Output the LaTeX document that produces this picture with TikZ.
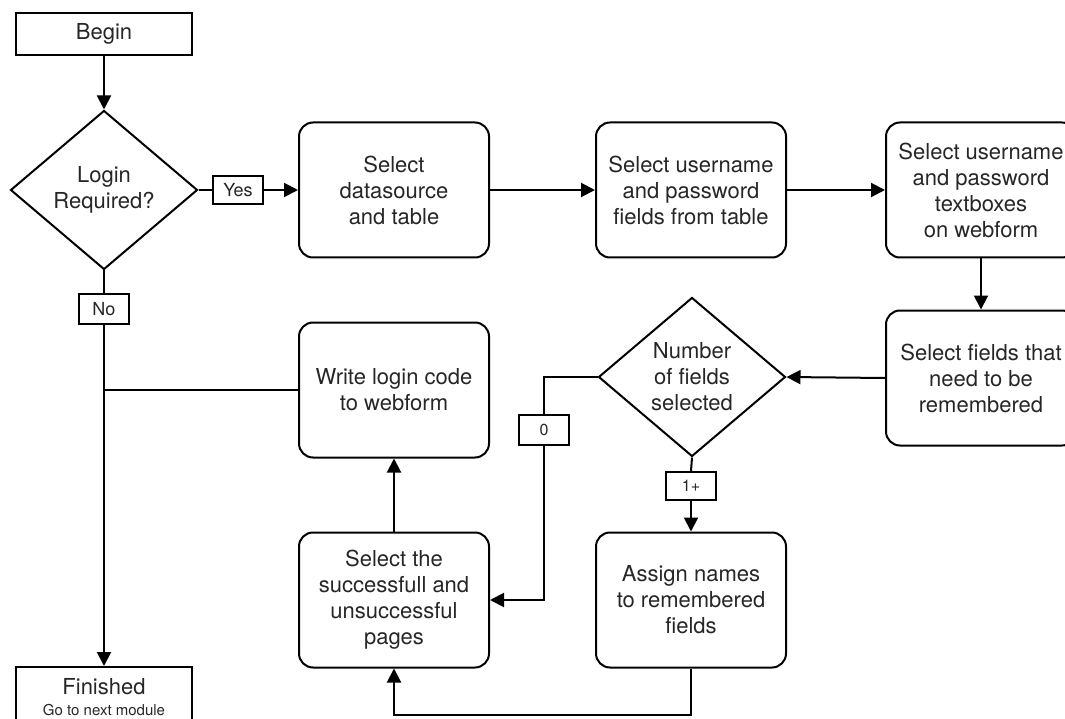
\documentclass[tikz,border=0pt]{standalone}
\usepackage{fontspec}
\setmainfont{TeX Gyre Heros}
\usetikzlibrary{shapes.geometric,arrows.meta}

\begin{document}
\begin{tikzpicture}[x=1pt,y=-1pt,
  every node/.style={font=\fontsize{22}{26}\selectfont, align=center, text=black!85},
  proc/.style={draw=black, line width=2pt, rounded corners=14pt, minimum width=190pt, minimum height=135pt, inner sep=0pt},
  term/.style={draw=black, line width=2pt, minimum width=176pt, inner sep=0pt},
  decision/.style={draw=black, diamond, line width=2pt, minimum width=187pt, minimum height=159pt, inner sep=0pt},
  tag/.style={draw=black, line width=2pt, fill=white, minimum width=50pt, minimum height=28pt, inner sep=0pt, font=\fontsize{18}{20}\selectfont},
  smalltag/.style={tag, font=\fontsize{16}{18}\selectfont},
  link/.style={draw=black, line width=2pt},
  flow/.style={link, -{Triangle[length=14pt,width=14pt]}}
]
\useasboundingbox (0,0) rectangle (1065,719);

% terminals
\node[term, minimum height=42pt] (begin) at (104,34) {Begin};
\node[term, minimum height=60pt] (finished) at (104,697)
  {Finished\\[-5pt]{\fontsize{15}{17}\selectfont Go to next module}};

% decisions
\node[decision] (login) at (104,190) {Login\\Required?};
\node[decision] (number) at (692,377) {Number\\of fields\\selected};

% process steps
\node[proc] (datasource) at (394,190) {Select\\datasource\\and table};
\node[proc] (userfields) at (691,190) {Select username\\and password\\fields from table};
\node[proc] (textboxes) at (981,190) {Select username\\and password\\textboxes\\on webform};
\node[proc] (remember) at (981,378) {Select fields that\\need to be\\remembered};
\node[proc] (assign) at (691,600) {Assign names\\to remembered\\fields};
\node[proc] (pages) at (394,600) {Select the\\successfull and\\unsuccessful\\pages};
\node[proc] (writelogin) at (394,390) {Write login code\\to webform};

% branch labels
\node[tag] (yes) at (238,190) {Yes};
\node[tag, minimum height=30pt] (no) at (104,309) {No};
\node[smalltag, minimum height=30pt] (zero) at (544,430) {0};
\node[smalltag] (oneplus) at (691,486) {1+};

% bend points
\coordinate (zerocorner) at (544,377);
\coordinate (loopcorner) at (691,715);
\coordinate (junction) at (104,390);

% connectors
\draw[flow] (begin) -- (login);
\draw[link] (login.east) -- (yes.west);
\draw[flow] (yes.east) -- (datasource.west);
\draw[flow] (datasource.east) -- (userfields.west);
\draw[flow] (userfields.east) -- (textboxes.west);
\draw[flow] (textboxes.south) -- (remember.north);
\draw[flow] (remember.west) -- (number.east);
\draw[link] (number.west) -- (zerocorner) -- (zero.north);
\draw[flow] (zero.south) |- (pages.east);
\draw[link] (number.south) -- (oneplus.north);
\draw[flow] (oneplus.south) -- (assign.north);
\draw[flow] (assign.south) -- (loopcorner) -| (pages.south);
\draw[flow] (pages.north) -- (writelogin.south);
\draw[link] (writelogin.west) -- (junction);
\draw[link] (login.south) -- (no.north);
\draw[flow] (no.south) -- (finished.north);
\end{tikzpicture}
\end{document}
